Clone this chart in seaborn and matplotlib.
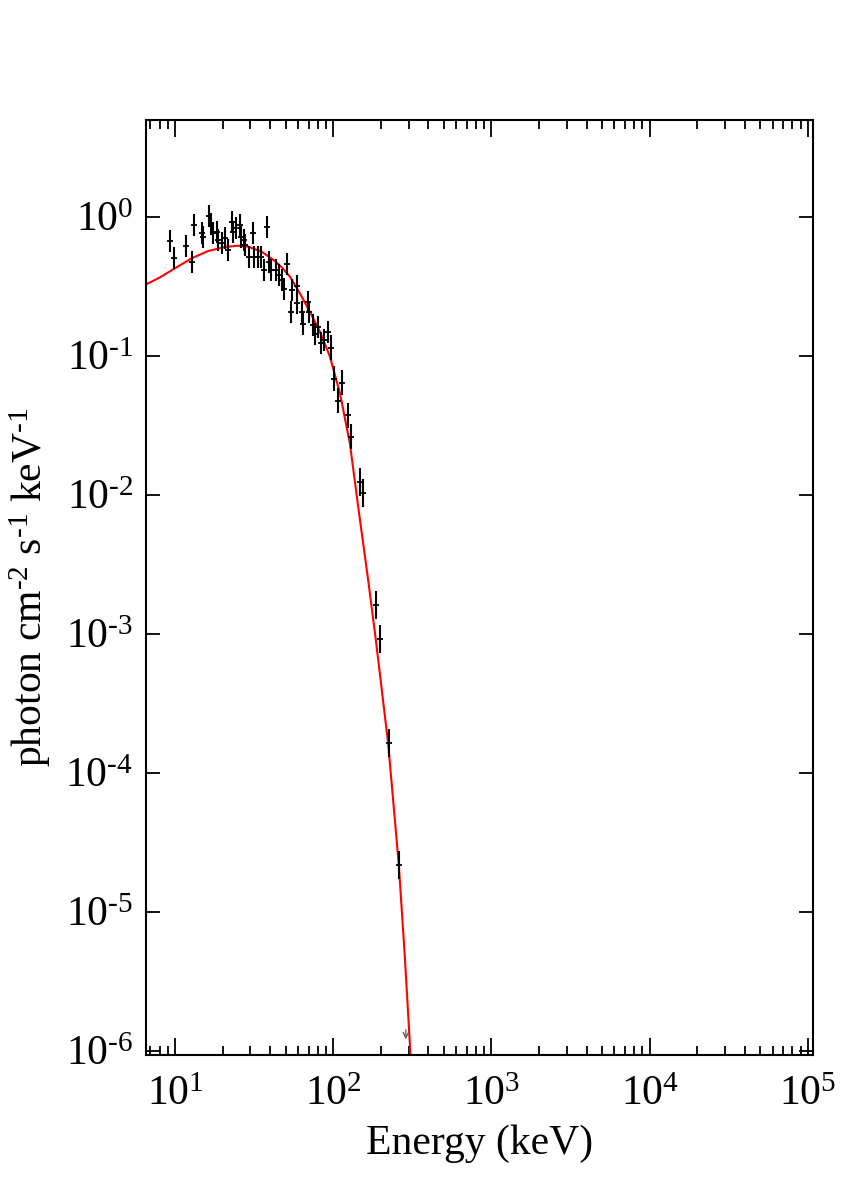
import numpy as np
import pandas as pd
import matplotlib
matplotlib.use("Agg")
import matplotlib.pyplot as plt
import matplotlib.ticker as mticker
import seaborn as sns

# ---------------- data ----------------
energy_keV = [9.30, 9.86, 11.74, 12.81, 13.18, 14.81, 15.03, 16.40, 16.88, 17.38,
              18.42, 18.69, 19.81, 20.70, 21.62, 22.92, 23.25, 24.28, 25.74, 26.12,
              27.29, 27.69, 29.35, 31.10, 31.56, 33.44, 34.93, 36.48, 38.11, 39.24,
              40.41, 43.45, 45.39, 47.6, 48.6, 51.00, 54.85, 54.06, 58.97, 59.5,
              63.42, 64.38, 69.21, 70.22, 74.43, 76.62, 80.05, 83.62, 87.36, 92.58,
              96.72, 101.0, 107.1, 113.5, 123.8, 129.4, 147.5, 154.1, 186.1, 197.2,
              224.9, 260.0]
flux = [0.669, 0.505, 0.616, 0.472, 0.872, 0.763, 0.715, 1.012, 0.886, 0.763,
        0.776, 0.680, 0.647, 0.703, 0.576, 0.916, 0.776, 0.829, 0.872, 0.715,
        0.680, 0.626, 0.513, 0.763, 0.513, 0.513, 0.513, 0.4136, 0.843, 0.472,
        0.4136, 0.4136, 0.3807, 0.3504, 0.302, 0.4567, 0.297, 0.2063, 0.317, 0.2393,
        0.2063, 0.169, 0.2433, 0.2063, 0.1663, 0.1432, 0.1609, 0.1234, 0.1297, 0.1481,
        0.1136, 0.0680, 0.0472, 0.0636, 0.0374, 0.0260, 0.01234, 0.01028, 1.609e-3, 9.16e-4,
        1.636e-4, 2.17e-5]
flux_err_dex = [0.08] * 50 + [0.09] * 6 + [0.10] * 6

upper_limit_energy = [288.0]
upper_limit_flux = [1.48e-6]

model_energy = [6.46, 8.04, 10.0, 12.75, 16.23, 20.70, 25.11, 29.04, 35.29, 42.83,
                47.76, 53.28, 61.59, 71.26, 82.41, 95.33, 110.3, 127.5, 143.9, 166.4,
                186.1, 222.6, 260.0, 283.8, 308.3]
model_flux = [0.3226, 0.366, 0.4253, 0.502, 0.5665, 0.6053, 0.6183, 0.6082, 0.5601, 0.480,
              0.4275, 0.3701, 0.2811, 0.2072, 0.1489, 0.0988, 0.0539, 0.02344, 8.20e-3, 2.433e-3,
              9.02e-4, 1.628e-4, 2.17e-5, 4.75e-6, 9.3e-7]

x_tick_values = [1e1, 1e2, 1e3, 1e4, 1e5]
y_tick_values = [1e-6, 1e-5, 1e-4, 1e-3, 1e-2, 1e-1, 1e0]

HY = "\u2010"  # short hyphen used in the reference's exponents
x_label = "Energy (keV)"
y_label = r"photon cm$^{" + HY + r"2}$ s$^{" + HY + r"1}$ keV$^{" + HY + r"1}$"

# ---------------- style ----------------
sns.set_theme(style="ticks")
plt.rcParams["font.family"] = ["Liberation Serif", "DejaVu Serif"]
plt.rcParams["mathtext.fontset"] = "custom"
plt.rcParams["mathtext.rm"] = "Liberation Serif"
plt.rcParams["mathtext.it"] = "Liberation Serif:italic"
plt.rcParams["mathtext.bf"] = "Liberation Serif:bold"
for k in ["text.color", "axes.labelcolor", "xtick.color", "ytick.color", "axes.edgecolor"]:
    plt.rcParams[k] = "black"
plt.rcParams["axes.linewidth"] = 1.5

fig = plt.figure(figsize=(8.57, 12.0), dpi=100)
ax = fig.add_axes([0.170, 0.1208, 0.7787, 0.7792])

df_model = pd.DataFrame({"E": model_energy, "F": model_flux})
sns.lineplot(data=df_model, x="E", y="F", ax=ax, color="#ff0000", lw=1.5,
             sort=False, estimator=None, zorder=2)

F = np.array(flux)
err = np.array(flux_err_dex)
lo = F - F * 10 ** (-err)
hi = F * 10 ** err - F
ax.errorbar(energy_keV, flux, yerr=[lo, hi], fmt="_", color="black",
            ms=4, mew=1.3, elinewidth=1.5, capsize=0, zorder=3)

for e, u in zip(upper_limit_energy, upper_limit_flux):
    ax.annotate("", xy=(e, u * 0.78), xytext=(e, u),
                arrowprops=dict(arrowstyle="->", color="#555555", lw=0.9,
                                mutation_scale=10))

ax.set_xscale("log")
ax.set_yscale("log")
ax.set_xlim(6.53, 1.08e5)
ax.set_ylim(9.3e-7, 4.96)


def pow10_label(v, pos):
    if v <= 0:
        return ""
    e = int(round(np.log10(v)))
    s = str(e).replace("-", HY)
    return r"$\mathdefault{10^{" + s + r"}}$"


ax.xaxis.set_major_locator(mticker.FixedLocator(x_tick_values))
ax.xaxis.set_minor_locator(mticker.LogLocator(base=10, subs=np.arange(2, 10), numticks=20))
ax.xaxis.set_major_formatter(mticker.FuncFormatter(pow10_label))
ax.xaxis.set_minor_formatter(mticker.NullFormatter())
ax.yaxis.set_major_locator(mticker.FixedLocator(y_tick_values))
ax.yaxis.set_major_formatter(mticker.FuncFormatter(pow10_label))
ax.yaxis.set_minor_locator(mticker.NullLocator())
ax.yaxis.set_minor_formatter(mticker.NullFormatter())

ax.tick_params(axis="both", which="both", direction="in", top=True, right=True,
               colors="black", labelsize=30)
ax.tick_params(axis="x", which="major", length=12, width=1.3, pad=15)
ax.tick_params(axis="x", which="minor", length=6.5, width=1.3)
ax.tick_params(axis="y", which="major", length=10, width=1.3, pad=9)

for s in ax.spines.values():
    s.set_color("black")
    s.set_linewidth(1.5)

ax.set_xlabel(x_label, fontsize=30, labelpad=7)
ax.set_ylabel(y_label, fontsize=30, labelpad=9)
ax.grid(False)

fig.savefig("out.png", dpi=100, facecolor="white")
